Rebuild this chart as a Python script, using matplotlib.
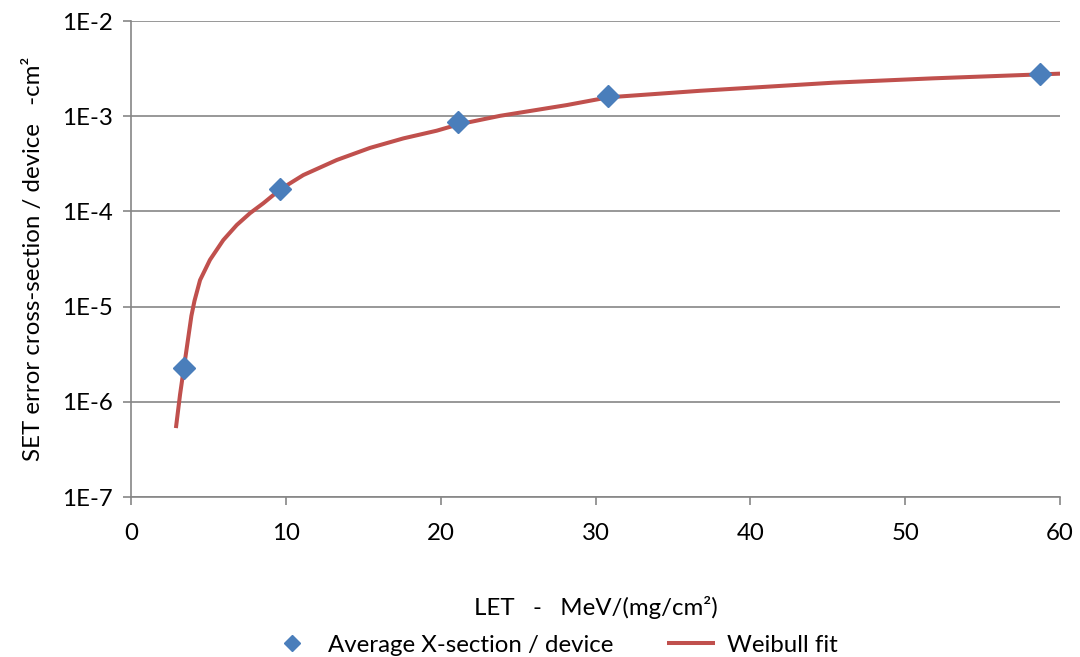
import numpy as np
import matplotlib.pyplot as plt
from matplotlib.ticker import FixedLocator, FuncFormatter, NullLocator

plt.rcParams['font.family'] = ['Lato', 'DejaVu Sans']

# measured points
let_pts = [3.42, 9.63, 21.1, 30.8, 58.7]
xs_pts = [2.26e-6, 1.72e-4, 8.7e-4, 1.63e-3, 2.77e-3]

# Weibull fit curve
let_fit = [2.9, 3.17, 3.42, 3.9, 4.1, 4.46, 5.1, 5.96, 6.83, 7.69, 8.55,
           9.63, 11.13, 13.29, 15.44, 17.59, 19.75, 21.14, 23.84, 28.15,
           30.83, 36.76, 45.35, 51.8, 58.7, 60.0]
xs_fit = [5.3e-7, 1.2e-6, 2.3e-6, 8.0e-6, 1.15e-5, 1.9e-5, 3.1e-5, 5.0e-5,
          7.2e-5, 9.6e-5, 1.22e-4, 1.7e-4, 2.41e-4, 3.47e-4, 4.65e-4, 5.85e-4,
          7.05e-4, 8.2e-4, 1.01e-3, 1.31e-3, 1.58e-3, 1.85e-3, 2.25e-3,
          2.5e-3, 2.75e-3, 2.8e-3]

y_ticks = [1e-7, 1e-6, 1e-5, 1e-4, 1e-3, 1e-2]
x_ticks = [0, 10, 20, 30, 40, 50, 60]

fig = plt.figure(figsize=(10.8, 6.57), dpi=100)
ax = fig.add_axes([0.1213, 0.2435, 0.8602, 0.7245])

ax.plot(let_pts, xs_pts, linestyle='none', marker='D', markersize=11,
        color='#4a7ebb', label='Average X-section / device', zorder=4)
ax.plot(let_fit, xs_fit, color='#c0504d', lw=2.9, label='Weibull fit',
        zorder=3, solid_capstyle='butt', solid_joinstyle='round')

ax.set_yscale('log')
ax.set_ylim(1e-7, 1e-2)
ax.set_xlim(0, 60)
ax.yaxis.set_major_locator(FixedLocator(y_ticks))
ax.yaxis.set_minor_locator(NullLocator())
ax.yaxis.set_major_formatter(FuncFormatter(lambda v, p: '1E%d' % round(np.log10(v))))
ax.xaxis.set_major_locator(FixedLocator(x_ticks))

ax.grid(axis='y', color='#868686', lw=1.2)
ax.set_axisbelow(True)
for s in ['top', 'right']:
    ax.spines[s].set_visible(False)
for s in ['left', 'bottom']:
    ax.spines[s].set_color('#868686')
    ax.spines[s].set_linewidth(1.2)
ax.tick_params(colors='#868686', labelcolor='black', labelsize=17.3, length=6, width=1.2)
ax.tick_params(axis='x', pad=13)
ax.tick_params(axis='y', pad=7)

ax.set_xlabel('LET   -   MeV/(mg/cm²)', fontsize=17.3, labelpad=37)
ax.set_ylabel('SET error cross-section / device   -cm²', fontsize=17.3, labelpad=13)

fig.legend(loc='center', bbox_to_anchor=(0.512, 0.018), ncol=2, frameon=False,
           fontsize=17.3, handlelength=2.0, columnspacing=2.2, handletextpad=0.5,
           numpoints=1, markerscale=0.75)

fig.savefig('out.png', dpi=100)
